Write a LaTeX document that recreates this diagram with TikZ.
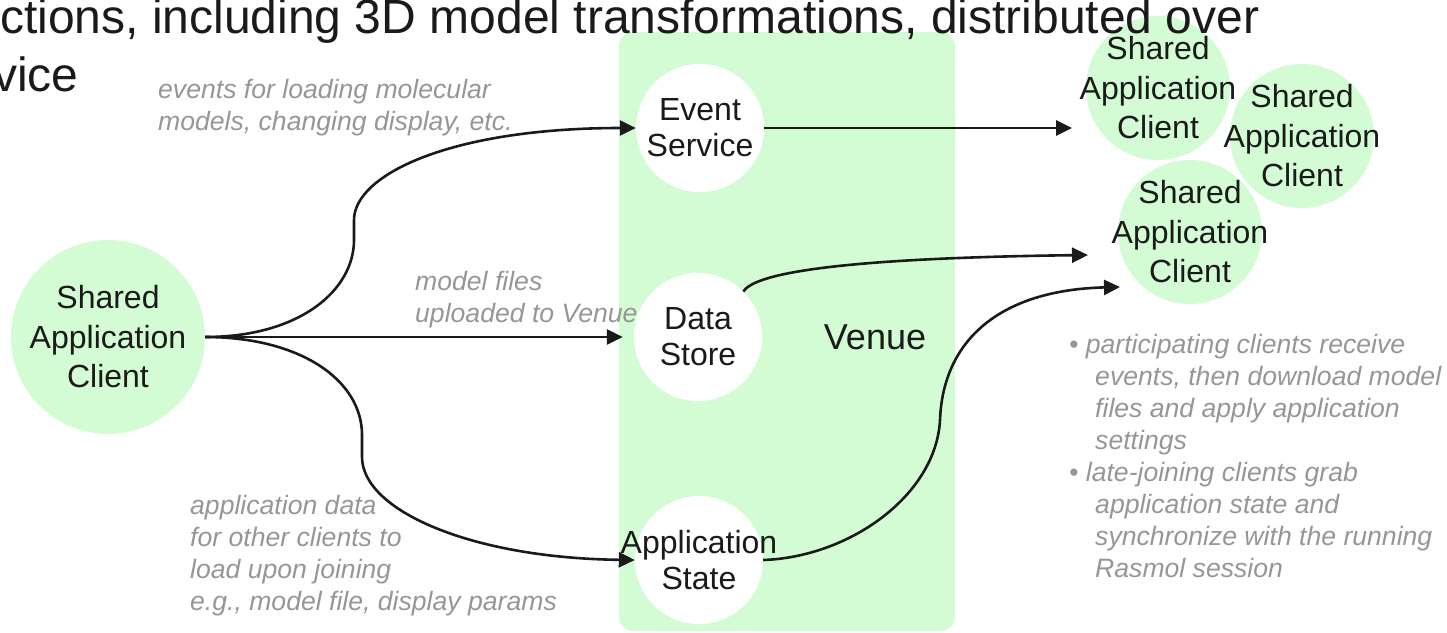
\documentclass[tikz,border=0pt]{standalone}
\usepackage{fontspec}
\setmainfont{Liberation Sans}
\usetikzlibrary{arrows.meta}

\definecolor{venuegreen}{RGB}{212,252,212}
\definecolor{notegray}{RGB}{150,150,150}
\definecolor{ink}{RGB}{26,26,26}

\tikzset{
  client/.style={circle,fill=venuegreen,inner sep=0pt,minimum size=144pt},
  service/.style={circle,fill=white,inner sep=0pt,minimum size=128pt},
  roletext/.style={font=\fontsize{32}{36}\selectfont,text=ink,align=center,inner sep=0pt},
  clienttext/.style={roletext,font=\fontsize{32}{39.5}\selectfont},
  remark/.style={font=\fontsize{26.6}{32}\selectfont\itshape,text=notegray,align=left,inner sep=0pt},
  flow/.style={draw=ink,line width=2.6pt,-{Triangle[length=16pt,width=15pt]}},
}

\begin{document}
\begin{tikzpicture}[x=1pt,y=-1pt]
  \useasboundingbox (0,0) rectangle (1447,632);

  % the venue and its three services
  \fill[venuegreen,rounded corners=14pt] (619,32) rectangle (955,631);
  \node[font=\fontsize{36}{43}\selectfont,text=ink] (venue) at (875,337) {Venue};
  \node[service,label={[roletext]center:{Event\\Service}}] (es) at (700,128) {};
  \node[service,label={[roletext]center:{Data\\Store}}] (ds) at (698,337) {};
  \node[service,label={[roletext]center:{Application\\State}}] (as) at (699,560) {};

  % clients
  \node[client,minimum size=194pt,label={[clienttext]center:{Shared\\Application\\Client}}] (src) at (108,337) {};
  \node[client,label={[clienttext]center:{Shared\\Application\\Client}}] (c1) at (1158,88) {};
  \node[client,label={[clienttext]center:{Shared\\Application\\Client}}] (c2) at (1302,136) {};
  \node[client,label={[clienttext]center:{Shared\\Application\\Client}}] (c3) at (1190,232) {};

  \coordinate (c1in) at (1072,128);
  \coordinate (c3in) at (1088,255);
  \coordinate (c3low) at (1120,287);

  \draw[flow] (src.east) .. controls (300,337) and (354,290) .. (354,240) -- (354,220)
    .. controls (354,175) and (450,128) .. (es.west);
  \draw[flow,shorten >=11pt] (src.east) -- (ds.west);
  \draw[flow] (src.east) .. controls (300,337) and (362,380) .. (362,435) -- (362,457)
    .. controls (362,510) and (470,558) .. (as.west);
  \draw[flow] (es.east) -- (c1in);
  \draw[flow] (ds.45) .. controls (755,272) and (850,258) .. (c3in);
  \draw[flow] (as.east) .. controls (850,557) and (936,495) .. (940,420)
    .. controls (943,340) and (1000,290) .. (c3low);

  % notes (anchored at the baseline of their last line)
  \node[remark,anchor=base west] (evnote) at (158,130) {events for loading molecular\\models, changing display, etc.};
  \node[remark,anchor=base west] (filenote) at (415,322) {model files\\uploaded to Venue};
  \node[remark,anchor=base west] (statenote) at (190,610) {application data\\for other clients to\\load upon joining\\e.g., model file, display params};
  \node[remark,anchor=base west] (joinnote) at (1069,577) {• participating clients receive\\
    \hspace*{26pt}events, then download model\\
    \hspace*{26pt}files and apply application\\
    \hspace*{26pt}settings\\
    • late-joining clients grab\\
    \hspace*{26pt}application state and\\
    \hspace*{26pt}synchronize with the running\\
    \hspace*{26pt}Rasmol session};

  % heading
  \node[anchor=base west,inner sep=0pt,font=\fontsize{48}{58}\selectfont,text=ink] (head) at (0,33) {ctions, including 3D model transformations, distributed over};
  \node[anchor=base west,inner sep=0pt,font=\fontsize{48}{58}\selectfont,text=ink] (headtail) at (-7,91) {vice};
\end{tikzpicture}
\end{document}
